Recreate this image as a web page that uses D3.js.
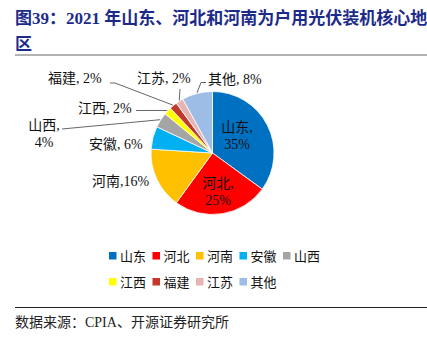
<!DOCTYPE html>
<html>
<head>
<meta charset="utf-8">
<script src="https://cdn.jsdelivr.net/npm/d3@7"></script>
<style>
  html, body { margin: 0; padding: 0; background: #fff; }
  svg { display: block; }
  text { font-family: "Liberation Serif", "Noto Sans CJK SC", serif; }
</style>
</head>
<body>
<svg id="chart" width="427" height="341"></svg>
<script>
// 2021 household PV installed share by province
const provinces = ["山东", "河北", "河南", "安徽", "山西", "江西", "福建", "江苏", "其他"];
const shares    = [35, 25, 16, 6, 4, 2, 2, 2, 8];
const colors    = ["#0070C0", "#FF0000", "#FFC000", "#00B0F0", "#A5A5A5", "#FFFF00", "#C0392B", "#E6B4B2", "#9EBDE6"];

const titleLines = ["图39：2021 年山东、河北和河南为户用光伏装机核心地", "区"];
const sourceText = "数据来源：CPIA、开源证券研究所";

const svg = d3.select("#chart");

// Title
svg.selectAll("text.title").data(titleLines).enter().append("text")
  .attr("class", "title")
  .attr("x", 15).attr("y", (d, i) => 24 + i * 26)
  .attr("font-size", 17).attr("font-weight", "bold")
  .attr("fill", "#1C2B8A")
  .text(d => d);

svg.append("line").attr("x1", 15).attr("x2", 427).attr("y1", 55).attr("y2", 55)
  .attr("stroke", "#9A9A9A").attr("stroke-width", 1.5);

// Pie
const cx = 212.5, cy = 153, r = 61.5;
const g = svg.append("g").attr("transform", `translate(${cx},${cy})`);
const data = provinces.map((p, i) => ({ name: p, value: shares[i], color: colors[i] }));
const pie = d3.pie().value(d => d.value).sort(null);
const arcs = pie(data);
const arc = d3.arc().innerRadius(0).outerRadius(r);

g.selectAll("path").data(arcs).enter().append("path")
  .attr("d", arc)
  .attr("fill", d => d.data.color)
  .attr("stroke", "#fff").attr("stroke-width", 0.8);

// Point on the rim of a slice, at its mid angle, at radius k*r
function rim(d, k) {
  const a = (d.startAngle + d.endAngle) / 2;
  return [cx + Math.sin(a) * r * k, cy - Math.cos(a) * r * k];
}

// Label layout: lines of text with anchor position; optional leader polyline
const labelSpec = {
  "山东": { lines: ["山东,", "35%"], x: 237, y: 132, anchor: "middle" },
  "河北": { lines: ["河北,", "25%"], x: 218, y: 188, anchor: "middle" },
  "河南": { lines: ["河南,16%"], x: 92, y: 186, anchor: "start" },
  "安徽": { lines: ["安徽, 6%"], x: 89, y: 149, anchor: "start" },
  "山西": { lines: ["山西,", "4%"], x: 44, y: 130, anchor: "middle", leader: [[62, 129]] },
  "江西": { lines: ["江西, 2%"], x: 78, y: 113, anchor: "start", leader: [[136, 110.5]] },
  "福建": { lines: ["福建, 2%"], x: 48, y: 83, anchor: "start", leader: [[110, 83], [115, 83]] },
  "江苏": { lines: ["江苏, 2%"], x: 137, y: 83, anchor: "start", leader: [[180, 89]] },
  "其他": { lines: ["其他, 8%"], x: 208, y: 84, anchor: "start", leader: [[206, 82.5], [201, 82.5]] }
};

arcs.forEach(d => {
  const s = labelSpec[d.data.name];
  const t = svg.append("text")
    .attr("x", s.x).attr("y", s.y)
    .attr("text-anchor", s.anchor)
    .attr("font-size", 14).attr("fill", "#111");
  s.lines.forEach((ln, i) => {
    t.append("tspan").attr("x", s.x).attr("dy", i === 0 ? 0 : 17).text(ln);
  });
  if (s.leader) {
    const end = rim(d, 1.01);
    const pts = s.leader.concat([end]);
    svg.append("path")
      .attr("d", d3.line()(pts))
      .attr("fill", "none").attr("stroke", "#555").attr("stroke-width", 0.9);
  }
});

// Legend: two rows
const perRow = 5, legX = 109, legY = 256, legDx = 43.5, legDy = 26;
const leg = svg.selectAll("g.leg").data(data).enter().append("g")
  .attr("class", "leg")
  .attr("transform", (d, i) => `translate(${legX + (i % perRow) * legDx},${legY + Math.floor(i / perRow) * legDy})`);
leg.append("rect").attr("x", 0).attr("y", -4).attr("width", 7.5).attr("height", 7.5)
  .attr("fill", d => d.color);
leg.append("text").attr("x", 11).attr("y", 4.5)
  .attr("font-size", 13).attr("fill", "#111")
  .text(d => d.name);

// Footer
svg.append("line").attr("x1", 15).attr("x2", 427).attr("y1", 307.5).attr("y2", 307.5)
  .attr("stroke", "#222").attr("stroke-width", 1);
svg.append("text").attr("x", 15).attr("y", 327)
  .attr("font-size", 14).attr("fill", "#222")
  .text(sourceText);
</script>
</body>
</html>
